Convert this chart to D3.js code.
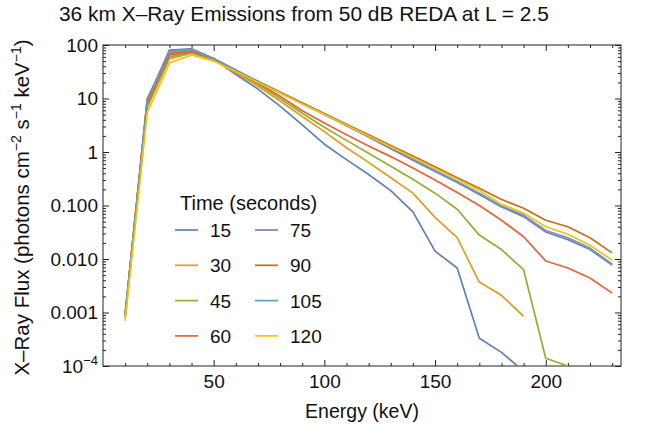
<!DOCTYPE html>
<html><head><meta charset="utf-8">
<script src="https://cdn.jsdelivr.net/npm/d3@7"></script>
<style>
body{margin:0;background:#fff;}
svg text{font-family:"Liberation Sans",Arial,sans-serif;fill:#111;}
</style></head>
<body><svg id="c" width="654" height="428"></svg>
<script>
const energies = [10,20,30,40,50,60,70,80,90,100,110,120,130,140,150,160,170,180,190,200,210,220,230];
const times = [15,30,45,60,75,90,105,120];
const colors = ["#5E81B5","#E19C24","#8FB032","#EB6235","#8778B3","#C56E1A","#5D9EC7","#FFBF00"];
const flux15  = [0.0009,9,80,85,55,28,15,7.2,3.2,1.4,0.72,0.38,0.19,0.076,0.014,0.0068,0.00033,0.00018,0.00008,null,null,null,null];
const flux30  = [0.0008,7,55,70,53,30,17,9.0,4.6,2.4,1.2,0.64,0.33,0.17,0.06,0.025,0.0037,0.0021,0.00085,null,null,null,null];
const flux45  = [0.0008,7,60,72,54,31,18.5,10,5.3,2.9,1.65,0.95,0.54,0.31,0.17,0.085,0.028,0.015,0.0063,0.00014,0.0001,null,null];
const flux60  = [0.0009,8,65,75,55,32,19.5,11,5.9,3.5,2.1,1.3,0.82,0.5,0.3,0.175,0.10,0.053,0.026,0.0092,0.0068,0.0044,0.0023];
const flux75  = [0.0009,9.5,78,84,56,34,20.5,12.8,8.0,5.0,3.1,1.9,1.15,0.70,0.43,0.27,0.16,0.094,0.062,0.032,0.023,0.015,0.0077];
const flux90  = [0.0009,10,70,78,56,33,21,13.2,8.3,5.25,3.3,2.1,1.32,0.84,0.53,0.33,0.21,0.13,0.089,0.053,0.040,0.025,0.013];
const flux105 = [0.0009,9,75,82,55,34,20.8,13,8.1,5.1,3.2,2.0,1.2,0.74,0.45,0.28,0.17,0.098,0.066,0.034,0.025,0.016,0.008];
const flux120 = [0.0007,5.5,46,65,50,32,20,12.6,7.9,5.0,3.15,2.0,1.25,0.78,0.49,0.31,0.19,0.105,0.072,0.040,0.029,0.018,0.0095];
const series = [flux15,flux30,flux45,flux60,flux75,flux90,flux105,flux120];
const yMajor = [1e-4,1e-3,1e-2,1e-1,1,10,100];
const yLabels = ["10^-4","0.001","0.010","0.100","1","10","100"];
const xMajor = [50,100,150,200];

const L=103,R=621,T=45,B=366;
const svg=d3.select("#c");
const x=d3.scaleLinear().domain([0,234]).range([L,R]);
const y=d3.scaleLog().domain([1e-4,100]).range([B,T]);

const yMinor=[];
for(let e=-4;e<2;e++) for(let m=2;m<=9;m++) yMinor.push(m*Math.pow(10,e));
const xMinor=d3.range(10,234,10).filter(v=>v%50!==0);

const axStyle=g=>{g.select(".domain").remove();g.selectAll("line").attr("stroke","#222").attr("stroke-width",1);};
const fmtY=v=>{const i=yMajor.findIndex(m=>Math.abs(m-v)/m<1e-6);return i>=0?yLabels[i]:"";};

// left
svg.append("g").attr("transform",`translate(${L},0)`).call(d3.axisLeft(y).tickValues(yMajor).tickSize(-6).tickSizeOuter(0).tickPadding(5).tickFormat(fmtY)).call(axStyle)
  .selectAll("text").attr("font-size",19).attr("fill","#111").each(function(d){
    if(d===1e-4){const t=d3.select(this);t.text("10");t.append("tspan").attr("dy",-8).attr("font-size",13).text("−4");}
  });
svg.append("g").attr("transform",`translate(${L},0)`).call(d3.axisLeft(y).tickValues(yMinor).tickSize(-3).tickSizeOuter(0).tickFormat("")).call(axStyle);
// right
svg.append("g").attr("transform",`translate(${R},0)`).call(d3.axisRight(y).tickValues(yMajor).tickSize(-6).tickSizeOuter(0).tickFormat("")).call(axStyle);
svg.append("g").attr("transform",`translate(${R},0)`).call(d3.axisRight(y).tickValues(yMinor).tickSize(-3).tickSizeOuter(0).tickFormat("")).call(axStyle);
// bottom
svg.append("g").attr("transform",`translate(0,${B})`).call(d3.axisBottom(x).tickValues(xMajor).tickSize(-6).tickSizeOuter(0).tickPadding(9).tickFormat(d3.format("d"))).call(axStyle)
  .selectAll("text").attr("font-size",19).attr("fill","#111");
svg.append("g").attr("transform",`translate(0,${B})`).call(d3.axisBottom(x).tickValues(xMinor).tickSize(-3).tickSizeOuter(0).tickFormat("")).call(axStyle);
// top
svg.append("g").attr("transform",`translate(0,${T})`).call(d3.axisTop(x).tickValues(xMajor).tickSize(-6).tickSizeOuter(0).tickFormat("")).call(axStyle);
svg.append("g").attr("transform",`translate(0,${T})`).call(d3.axisTop(x).tickValues(xMinor).tickSize(-3).tickSizeOuter(0).tickFormat("")).call(axStyle);

svg.append("rect").attr("x",L).attr("y",T).attr("width",R-L).attr("height",B-T).attr("fill","none").attr("stroke","#222").attr("stroke-width",1);

svg.append("clipPath").attr("id","clip").append("rect").attr("x",L).attr("y",T).attr("width",R-L).attr("height",B-T);
const line=d3.line().defined(d=>d[1]!=null).x(d=>x(d[0])).y(d=>y(d[1]));
const g=svg.append("g").attr("clip-path","url(#clip)");
series.forEach((s,i)=>{
  g.append("path").datum(energies.map((e,j)=>[e,s[j]])).attr("d",line).attr("fill","none").attr("stroke",colors[i]).attr("stroke-width",1.7).attr("stroke-linejoin","round");
});

// legend
svg.append("text").attr("x",180).attr("y",210).attr("font-size",20).text("Time (seconds)");
times.forEach((t,i)=>{
  const col=Math.floor(i/4),row=i%4;
  const cy=230+row*35.3, lx=col===0?175:255;
  svg.append("line").attr("x1",lx).attr("x2",lx+23).attr("y1",cy).attr("y2",cy).attr("stroke",colors[i]).attr("stroke-width",1.7);
  svg.append("text").attr("x",lx+35).attr("y",cy+7).attr("font-size",19).text(t);
});

// titles
svg.append("text").attr("x",59).attr("y",21).attr("font-size",20.9).text("36 km X–Ray Emissions from 50 dB REDA at L = 2.5");
svg.append("text").attr("x",(L+R)/2).attr("y",418).attr("text-anchor","middle").attr("font-size",19.5).text("Energy (keV)");
const yt=svg.append("text").attr("transform",`translate(29,${(T+B)/2+2}) rotate(-90)`).attr("text-anchor","middle").attr("font-size",20.5);
yt.append("tspan").text("X–Ray Flux (photons cm");
yt.append("tspan").attr("dy",-8).attr("font-size",14).text("−2");
yt.append("tspan").attr("dy",8).text(" s");
yt.append("tspan").attr("dy",-8).attr("font-size",14).text("−1");
yt.append("tspan").attr("dy",8).text(" keV");
yt.append("tspan").attr("dy",-8).attr("font-size",14).text("−1");
yt.append("tspan").attr("dy",8).text(")");
</script></body></html>
